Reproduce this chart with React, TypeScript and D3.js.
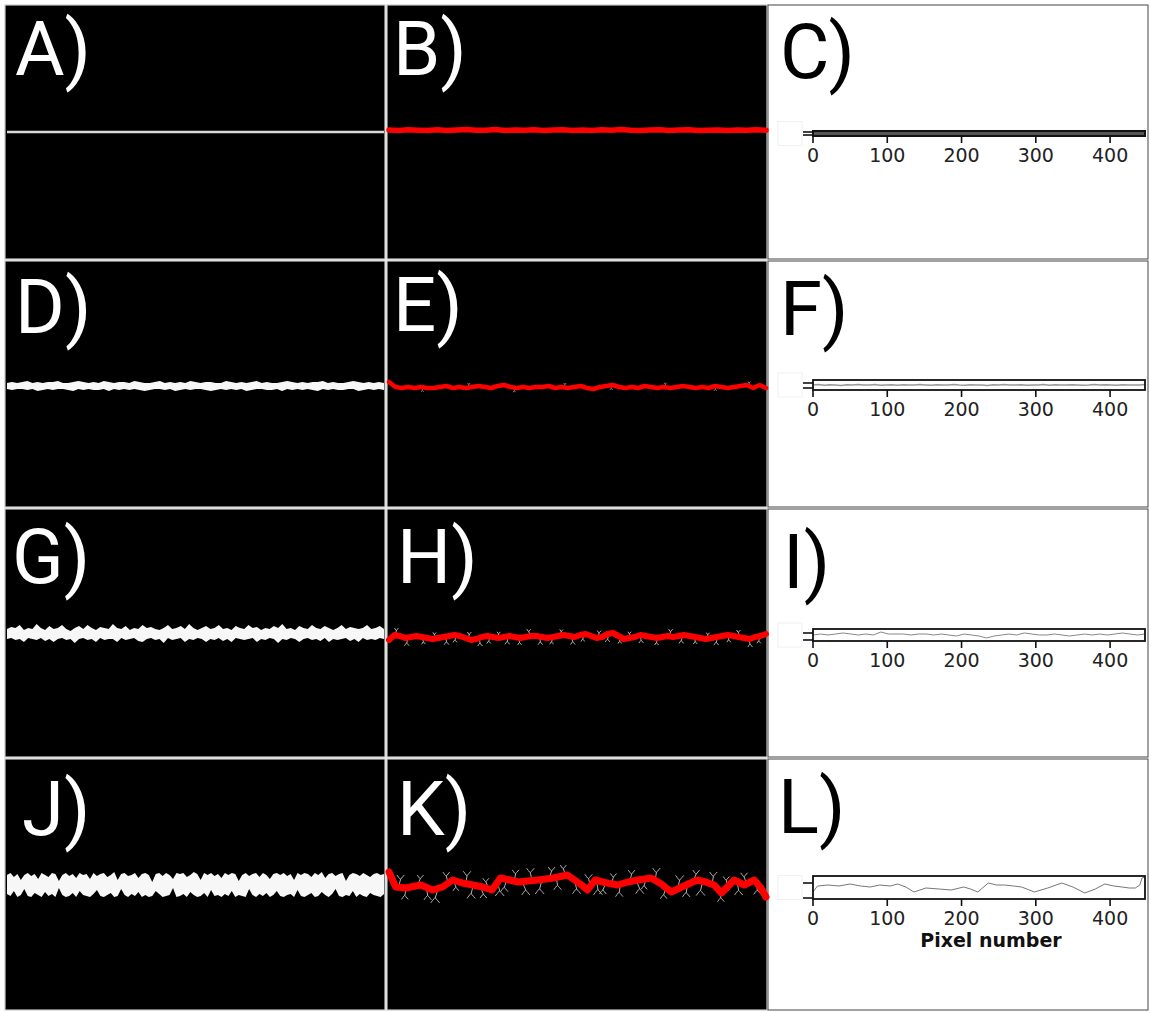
import React from 'react';
import * as d3 from 'd3';

// ---------------- DATA ----------------
const PIXEL_MAX = 450;
const xTickValues = [0, 100, 200, 300, 400];
const panelLetters = ['A)', 'B)', 'C)', 'D)', 'E)', 'F)', 'G)', 'H)', 'I)', 'J)', 'K)', 'L)'];

// Row 1: straight line
const lineA = [0, 0, 0, 0];
const redB = [0, 0.5, -0.3, 0.2, 0.6, -0.2, 0.4, 0, -0.5, 0.3, 0.2, -0.4, 0.5, 0, 0.3, -0.2, 0.6, 0.1, -0.3, 0.4, 0, 0.5, -0.2, 0.3, -0.4, 0.2, 0.5, 0, -0.3, 0.4, 0.1, -0.2, 0.5, 0.3, -0.1, 0.4, 0, 0.3, -0.2, 0.2];
const profileC = [2.5, 2.5, 2.5, 2.5];

// Row 2: small noise
const bandDTop = [-3, -4, -3, -4, -5, -3, -4, -3, -4, -4, -5, -3, -3, -4, -5, -4, -3, -4, -3, -5, -4, -3, -4, -4, -3, -5, -4, -3, -3, -4, -5, -3, -4, -3, -4, -3, -5, -4, -3, -4, -4, -3, -3, -5, -4, -3, -4, -3, -4, -5, -3, -4, -3, -3, -4, -5, -4, -3, -4, -3, -4, -4, -5, -3, -4, -3, -3, -4, -5, -4, -3, -4, -3, -4, -3];
const bandDBot = [3, 4, 3, 3, 4, 3, 5, 4, 3, 4, 3, 3, 4, 5, 3, 4, 3, 4, 4, 3, 5, 3, 4, 3, 4, 3, 4, 5, 4, 3, 3, 4, 3, 5, 4, 3, 4, 3, 3, 4, 5, 4, 3, 4, 3, 4, 3, 5, 4, 3, 3, 4, 4, 3, 5, 3, 4, 3, 4, 3, 4, 5, 3, 4, 3, 4, 4, 3, 3, 5, 4, 3, 4, 3, 4];
const redE = [-5, 0, 1, 0, 1, 0, 1, 1, 0, -1, 1, 0, 1, 0, -1, 0, 1, -1, -2, 0, 1, 0, 1, 0, 0, -1, 1, 0, 1, 0, -1, 1, 2, 0, -1, -2, 0, 1, 0, 1, -1, 0, 1, 0, 1, 0, -1, 0, 1, 0, 1, -1, 0, 1, 0, -1, -2, 1, -2, 1];
const spursE = [[40, 1, 3, 0], [95, -1, 3, 0.2], [150, 1, 3, -0.2], [210, -1, 3, 0], [265, 1, 3, 0.2], [330, -1, 3, 0], [390, 1, 3, -0.2], [430, -1, 3, 0]];
const profileF = [5, 5.5, 4.8, 5.2, 5, 4.6, 5.3, 5, 5.4, 4.9, 5.1, 5.5, 4.7, 5, 5.2, 4.8, 5.3, 5, 4.9, 5.4, 5, 4.7, 5.2, 5.1, 4.9, 5.5, 5, 4.8, 5.3, 5, 5.1, 4.6, 5.2, 5, 5.4, 4.9, 5, 5.3, 4.8, 5.1, 5, 5.5, 4.7, 5.2, 5, 4.9, 5.3, 5.1, 4.8, 5, 5.4, 4.9, 5.2, 5, 4.8, 5.3, 5, 5.1, 4.9, 5.4];

// Row 3: medium noise
const bandGTop = [-5, -7, -6, -9, -4, -6, -5, -10, -6, -4, -8, -5, -6, -9, -5, -3, -6, -8, -5, -9, -6, -4, -7, -6, -5, -10, -6, -5, -8, -4, -6, -5, -9, -6, -7, -5, -4, -6, -9, -5, -6, -8, -5, -10, -6, -4, -6, -8, -5, -6, -9, -5, -6, -4, -8, -6, -5, -9, -6, -7, -4, -6, -5, -8, -6, -10, -5, -6, -4, -8, -6, -5, -9, -6, -5, -8, -6, -4, -6, -9, -5, -7, -6, -5, -6, -9, -5, -6, -8, -5];
const bandGBot = [5, 4, 6, 5, 8, 4, 5, 6, 4, 7, 5, 8, 5, 4, 6, 5, 9, 5, 4, 6, 5, 8, 4, 6, 5, 5, 8, 4, 6, 5, 4, 7, 8, 5, 4, 6, 5, 9, 4, 6, 5, 4, 8, 5, 6, 4, 5, 8, 5, 6, 4, 7, 5, 8, 4, 5, 6, 5, 4, 8, 5, 6, 4, 5, 9, 5, 6, 4, 5, 8, 5, 4, 6, 5, 7, 4, 8, 5, 6, 5, 4, 7, 5, 8, 4, 6, 5, 6, 4, 5];
const redH = [3, -2, -1, 1, 0, -1, 0, 1, 2, 1, 0, -1, -2, -1, 1, 3, 2, 0, -1, 0, 1, 0, -1, 0, 1, 0, -1, -1, 0, 1, 0, -1, -2, -1, 0, -2, -3, -1, 1, 0, -3, -4, -1, 2, 1, 0, -2, -1, 0, 1, 0, -1, 0, -1, -2, -1, 0, 1, 2, 1, 0, -1, -2, -1, 0, 1, 2, 0, -1, -3];
const spursH = [[8, -1, 5, 0.3], [22, 1, 6, -0.2], [40, 1, 5, 0.4], [55, -1, 4, -0.3], [68, 1, 6, 0.2], [80, 1, 5, -0.4], [95, -1, 5, 0.3], [108, 1, 6, 0.2], [120, 1, 5, -0.3], [130, -1, 4, 0.4], [142, 1, 6, -0.2], [155, 1, 5, 0.3], [168, -1, 5, -0.4], [180, 1, 6, 0.2], [195, 1, 5, -0.3], [205, -1, 4, 0.3], [218, 1, 6, 0.4], [232, 1, 5, -0.2], [250, -1, 5, 0.3], [262, 1, 6, -0.3], [275, 1, 5, 0.2], [288, -1, 4, -0.4], [300, 1, 6, 0.3], [320, 1, 5, -0.2], [335, -1, 5, 0.4], [350, 1, 6, -0.3], [365, 1, 5, 0.2], [380, -1, 4, 0.3], [392, 1, 6, -0.4], [405, 1, 5, 0.2], [418, -1, 5, -0.3], [430, 1, 6, 0.3], [442, 1, 5, -0.2]];
const profileI = [6, 7, 6, 7, 8, 7, 6, 7, 6, 9, 7, 7, 7, 6, 7, 7, 6, 7, 6, 5, 7, 6, 5, 3, 5, 6, 7, 6, 8, 7, 6, 6, 7, 6, 5, 6, 7, 6, 7, 6, 7, 8, 7, 6, 7];

// Row 4: strong noise
const bandJTop = [-10, -12, -8, -11, -5, -10, -12, -9, -11, -6, -12, -10, -8, -12, -11, -4, -10, -12, -9, -11, -7, -12, -10, -11, -6, -12, -9, -11, -12, -8, -10, -13, -5, -11, -12, -9, -10, -12, -7, -11, -12, -10, -3, -11, -12, -9, -12, -10, -6, -12, -11, -12, -8, -10, -13, -11, -5, -12, -10, -12, -9, -11, -7, -12, -10, -12, -11, -4, -10, -12, -9, -11, -12, -8, -12, -10, -6, -11, -12, -10, -12, -9, -11, -5, -12, -10, -12, -11, -8, -12, -10, -13, -7, -11, -12, -9, -11, -12, -4, -10, -12, -11, -9, -12, -10, -8, -11, -12, -10, -11];
const bandJBot = [9, 11, 6, 12, 10, 4, 11, 12, 8, 10, 12, 7, 11, 9, 12, 3, 10, 12, 11, 8, 12, 6, 10, 11, 12, 9, 5, 11, 12, 10, 8, 12, 11, 4, 10, 12, 9, 11, 7, 12, 10, 12, 11, 6, 9, 12, 11, 10, 3, 12, 11, 9, 12, 7, 10, 12, 11, 8, 12, 5, 11, 10, 12, 9, 11, 6, 12, 10, 11, 12, 4, 10, 12, 9, 11, 8, 12, 10, 6, 11, 12, 10, 9, 12, 5, 11, 12, 10, 8, 12, 11, 7, 10, 12, 9, 4, 11, 12, 10, 11, 6, 12, 9, 11, 12, 8, 10, 11, 12, 9];
const redKx = [0, 8, 20, 38, 52, 64, 76, 88, 100, 112, 123, 133, 144, 154, 166, 178, 196, 213, 230, 237, 246, 260, 273, 285, 297, 313, 325, 337, 352, 368, 378, 388, 397, 412, 424, 436, 444, 450];
const redKy = [-12, 3, 4, 1, 6, 3, -4, -1, 1, 3, 6, -6, -4, -2, -3, -4, -6, -9, 1, 6, -4, -1, 1, -2, -4, -6, 0, 8, 2, -4, -2, 1, 9, -4, 1, -4, 4, 13];
const spursK = [[12, -1, 10, 0.3], [20, 1, 9, -0.2], [35, -1, 8, 0.5], [45, 1, 10, 0.2], [58, 1, 12, -0.4], [70, -1, 9, -0.3], [78, 1, 8, 0.4], [92, -1, 10, 0.2], [100, 1, 11, -0.3], [110, 1, 9, 0.5], [118, -1, 8, -0.5], [130, 1, 12, 0.3], [140, 1, 10, -0.4], [150, -1, 9, 0.2], [160, 1, 11, 0.5], [170, -1, 10, -0.2], [182, 1, 12, -0.3], [192, -1, 9, 0.4], [200, 1, 10, 0.2], [210, -1, 8, -0.4], [222, 1, 11, 0.3], [240, -1, 10, -0.3], [248, 1, 12, 0.2], [258, 1, 9, -0.5], [266, -1, 8, 0.4], [276, 1, 10, -0.2], [288, -1, 9, 0.3], [296, 1, 11, 0.5], [306, 1, 8, -0.3], [318, -1, 10, 0.2], [330, 1, 9, -0.4], [345, -1, 11, 0.3], [356, 1, 10, -0.2], [364, -1, 9, 0.5], [374, 1, 12, -0.3], [386, -1, 10, 0.2], [394, 1, 9, 0.4], [404, -1, 8, -0.3], [416, 1, 11, 0.2], [426, -1, 9, -0.4], [438, 1, 10, 0.3]];
const profileLx = [0, 6, 20, 35, 50, 64, 77, 90, 104, 114, 125, 136, 152, 170, 186, 203, 212, 222, 236, 247, 258, 270, 281, 298, 316, 335, 350, 366, 380, 393, 405, 416, 426, 434, 440, 443, 447];
const profileLy = [7, 13, 14, 13, 15, 13, 12, 14, 13, 15, 12, 7, 11, 10, 9, 12, 10, 7, 16, 14, 14, 13, 12, 7, 11, 16, 12, 6, 10, 15, 13, 12, 11, 11, 14, 21, 22];

// ---------------- LAYOUT ----------------
const W = 1151, H = 1013;
const cols = [{ x0: 5, x1: 385 }, { x0: 387, x1: 767 }, { x0: 768, x1: 1148 }];
const rows = [{ y0: 5, y1: 259, cy: 131 }, { y0: 261, y1: 507, cy: 386 }, { y0: 509, y1: 757, cy: 634 }, { y0: 759, y1: 1010, cy: 885 }];
const labelPos = [
  [15, 75], [393, 75], [780, 78],
  [15, 333], [393, 331], [780, 335],
  [12, 583], [397, 583], [783, 588],
  [22, 835], [397, 835], [778, 833],
];
const plotX0 = 813, plotX1 = 1145;

const evenX = (n: number, max: number) => d3.range(n).map(i => (i * max) / (n - 1));

function imgX(col: number) {
  return d3.scaleLinear().domain([0, PIXEL_MAX]).range([cols[col].x0 + 2, cols[col].x1 - 1]);
}
function imgY(row: number, shift = 0) {
  const cy = rows[row].cy + shift;
  return d3.scaleLinear().domain([-100, 100]).range([cy - 100, cy + 100]);
}

function Band({ top, bot, row }: { top: number[]; bot: number[]; row: number }) {
  const xs = evenX(top.length, PIXEL_MAX);
  const x = imgX(0);
  const y = imgY(row);
  const area = d3.area<number>()
    .x((_, i) => x(xs[i]))
    .y0((_, i) => y(top[i]))
    .y1((_, i) => y(bot[i]))
    .curve(d3.curveLinear);
  return <path d={area(top) || ''} fill="#f7f7f7" filter="url(#soft)" />;
}

function RedTrace({ xs, ys, row, width, shift = 0, spurs = [] as number[][], spurColor = '#b0b0b0' }:
  { xs: number[]; ys: number[]; row: number; width: number; shift?: number; spurs?: number[][]; spurColor?: string }) {
  const x = imgX(1);
  const y = imgY(row, shift);
  const line = d3.line<number>().x((_, i) => x(xs[i])).y((d) => y(d));
  const interp = (px: number) => {
    const i = d3.bisectLeft(xs, px);
    if (i <= 0) return ys[0];
    if (i >= xs.length) return ys[ys.length - 1];
    const t = (px - xs[i - 1]) / (xs[i] - xs[i - 1]);
    return ys[i - 1] + t * (ys[i] - ys[i - 1]);
  };
  return (
    <g>
      {spurs.map(([px, side, len, lean], k) => {
        const bx = x(px), by = y(interp(px)) + side * width * 0.3;
        const mx = bx + lean * len * 0.5, my = by + side * len * 0.6;
        const ex1 = mx - len * 0.35, ey1 = my + side * len * 0.4;
        const ex2 = mx + len * 0.35, ey2 = my + side * len * 0.4;
        return (
          <path key={k} d={`M${bx},${by}L${mx},${my}M${ex1},${ey1}Q${mx},${my - side} ${mx},${my}Q${mx},${my} ${ex2},${ey2}`}
            fill="none" stroke={spurColor} strokeWidth={1} strokeLinecap="round" />
        );
      })}
      <path d={line(ys) || ''} fill="none" stroke="#ff0000" strokeWidth={width} strokeLinejoin="round" strokeLinecap="round" filter="url(#soft)" />
    </g>
  );
}

function Profile({ xs, ys, yDomain, yTicks, boxY0, boxY1, traceColor, traceWidth, boxStroke, xLabel }:
  { xs: number[]; ys: number[]; yDomain: [number, number]; yTicks: number[]; boxY0: number; boxY1: number; traceColor: string; traceWidth: number; boxStroke: number; xLabel?: string }) {
  const xb = d3.scaleLinear().domain([0, 447]).range([plotX0, plotX1]);
  const y = d3.scaleLinear().domain(yDomain).range([boxY1, boxY0]);
  const line = d3.line<number>().x((_, i) => xb(xs[i])).y(d => y(d));
  return (
    <g>
      <rect x={778} y={(boxY0 + boxY1) / 2 - 12} width={24} height={24} fill="none" stroke="#f0f0f0" strokeWidth={1} />
      <path d={line(ys) || ''} fill="none" stroke={traceColor} strokeWidth={traceWidth} />
      <rect x={plotX0} y={boxY0} width={plotX1 - plotX0} height={boxY1 - boxY0} fill="none" stroke="#111" strokeWidth={boxStroke} />
      {yTicks.map((t, i) => (
        <line key={'y' + i} x1={plotX0 - 10} x2={plotX0} y1={y(t)} y2={y(t)} stroke="#111" strokeWidth={1.6} />
      ))}
      {xTickValues.map(t => (
        <g key={t}>
          <line x1={xb(t)} x2={xb(t)} y1={boxY1} y2={boxY1 + 7} stroke="#111" strokeWidth={1.6} />
          <text x={xb(t)} y={boxY1 + 26} textAnchor="middle" fontFamily="DejaVu Sans" fontSize={19} fill="#222">{t}</text>
        </g>
      ))}
      {xLabel && (
        <text x={991} y={boxY1 + 48} textAnchor="middle" fontFamily="DejaVu Sans" fontWeight="bold" fontSize={19} fill="#111">{xLabel}</text>
      )}
    </g>
  );
}

export default function App() {
  const xA = imgX(0);
  const yA = imgY(0, 1);
  const lineAPath = d3.line<number>().x((_, i) => xA(evenX(lineA.length, PIXEL_MAX)[i])).y(d => yA(d))(lineA) || '';

  return (
    <svg width={W} height={H} viewBox={`0 0 ${W} ${H}`} style={{ position: 'absolute', left: 0, top: 0, background: '#fff' }}>
      <defs>
        <filter id="soft" filterUnits="userSpaceOnUse" x={0} y={0} width={W} height={H}>
          <feGaussianBlur stdDeviation={0.6} />
        </filter>
      </defs>
      <rect width={W} height={H} fill="#fff" />
      {rows.map((r, ri) => cols.map((c, ci) => (
        <rect key={`p${ri}${ci}`} x={c.x0} y={r.y0} width={c.x1 - c.x0} height={r.y1 - r.y0}
          fill={ci < 2 ? '#000' : '#fff'} stroke={ci < 2 ? '#c8c8c8' : '#444'} strokeWidth={ci < 2 ? 1.2 : 1} />
      )))}

      {/* Row 1 */}
      <path d={lineAPath} stroke="#d9d9d9" strokeWidth={2.6} fill="none" filter="url(#soft)" />
      <RedTrace xs={evenX(redB.length, PIXEL_MAX)} ys={redB} row={0} width={5.5} shift={-1} />
      <Profile xs={evenX(profileC.length, 447)} ys={profileC} yDomain={[0, 5]} yTicks={[1, 4]} boxY0={131} boxY1={136} traceColor="#555" traceWidth={3} boxStroke={2} />

      {/* Row 2 */}
      <Band top={bandDTop} bot={bandDBot} row={1} />
      <RedTrace xs={evenX(redE.length, PIXEL_MAX)} ys={redE} row={1} width={4.5} shift={1} spurs={spursE} spurColor="#777" />
      <Profile xs={evenX(profileF.length, 447)} ys={profileF} yDomain={[0, 10]} yTicks={[2, 7]} boxY0={380} boxY1={390} traceColor="#999" traceWidth={1.5} boxStroke={1.8} />

      {/* Row 3 */}
      <Band top={bandGTop} bot={bandGBot} row={2} />
      <RedTrace xs={evenX(redH.length, PIXEL_MAX)} ys={redH} row={2} width={6} shift={3} spurs={spursH} />
      <Profile xs={evenX(profileI.length, 447)} ys={profileI} yDomain={[0, 12]} yTicks={[1, 8]} boxY0={629} boxY1={641} traceColor="#888" traceWidth={1} boxStroke={1.8} />

      {/* Row 4 */}
      <Band top={bandJTop} bot={bandJBot} row={3} />
      <RedTrace xs={redKx} ys={redKy} row={3} width={7} shift={-1} spurs={spursK} />
      <Profile xs={profileLx} ys={profileLy} yDomain={[0, 23]} yTicks={[1, 16]} boxY0={876} boxY1={899} traceColor="#777" traceWidth={1} boxStroke={1.8} xLabel="Pixel number" />

      {/* Panel letters */}
      {panelLetters.map((t, i) => (
        <text key={t} x={labelPos[i][0]} y={labelPos[i][1]} fontFamily="Roboto" fontSize={76}
          fill={i % 3 === 2 ? '#000' : '#fff'}>{t}</text>
      ))}
    </svg>
  );
}
